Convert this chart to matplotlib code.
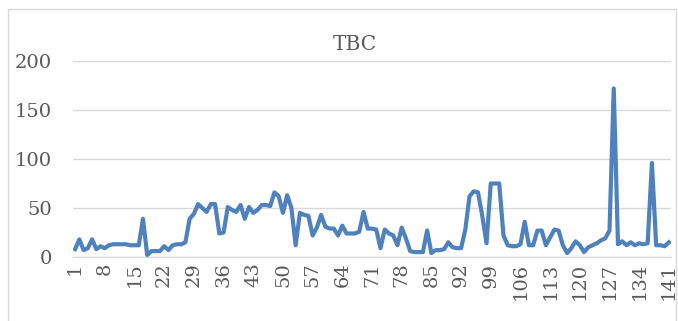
import numpy as np
import matplotlib
matplotlib.use('Agg')
import matplotlib.pyplot as plt
from matplotlib.patches import Rectangle

# TBC values per sample (1..141)
tbc = [8, 18, 7, 9, 18, 8, 11, 9, 12, 13,
       13, 13, 13, 12, 12, 12, 39, 2, 6, 6,
       6, 11, 7, 12, 13, 13, 15, 39, 44, 54,
       50, 46, 54, 54, 24, 25, 51, 48, 46, 53,
       39, 51, 45, 48, 53, 53, 52, 66, 62, 45,
       63, 50, 12, 45, 43, 42, 22, 30, 43, 31,
       29, 29, 22, 32, 24, 24, 24, 26, 46, 29,
       29, 28, 9, 28, 24, 22, 12, 30, 19, 6,
       5, 5, 5, 27, 4, 7, 7, 8, 15, 10,
       9, 9, 28, 62, 67, 66, 42, 14, 75, 75,
       75, 22, 12, 11, 11, 13, 36, 12, 12, 27,
       27, 12, 20, 28, 27, 12, 4, 9, 16, 12,
       5, 10, 12, 14, 17, 19, 27, 172, 13, 16,
       12, 15, 12, 14, 13, 14, 96, 12, 12, 11,
       15]
samples = np.arange(1, len(tbc) + 1)
xticks = samples[::7]
yticks = [0, 50, 100, 150, 200]

W, H = 678, 321
txtColor = '#595959'
gridColor = '#d9d9d9'

plt.rcParams['font.family'] = ['DejaVu Serif']

fig = plt.figure(figsize=(W / 100, H / 100), dpi=100)

# chart frame
fig.patches.append(Rectangle((8 / W, -0.1), 668 / W, 1.1 - 9 / H, transform=fig.transFigure,
                             fill=False, edgecolor=gridColor, linewidth=1))

ax = fig.add_axes([73 / W, (H - 257) / H, 598 / W, 196 / H])
ax.plot(samples, tbc, color='#4f81bd', linewidth=3.0, solid_joinstyle='round')

ax.set_xlim(0.5, len(tbc) + 0.5)
ax.set_ylim(0, 200)
ax.set_yticks(yticks)
ax.set_xticks(xticks)
ax.set_xticklabels([str(v) for v in xticks], rotation=90)
ax.yaxis.grid(True, color=gridColor, linewidth=1)
ax.set_axisbelow(True)
for side in ['top', 'right', 'left']:
    ax.spines[side].set_visible(False)
ax.spines['bottom'].set_color(gridColor)
ax.tick_params(axis='both', length=0, labelcolor=txtColor, labelsize=14)
ax.tick_params(axis='y', pad=15)
ax.tick_params(axis='x', pad=4)

fig.text(355 / W, (H - 45) / H, 'TBC', ha='center', va='center', color=txtColor, fontsize=14.5)

fig.savefig('out.png', dpi=100)
plt.close()
